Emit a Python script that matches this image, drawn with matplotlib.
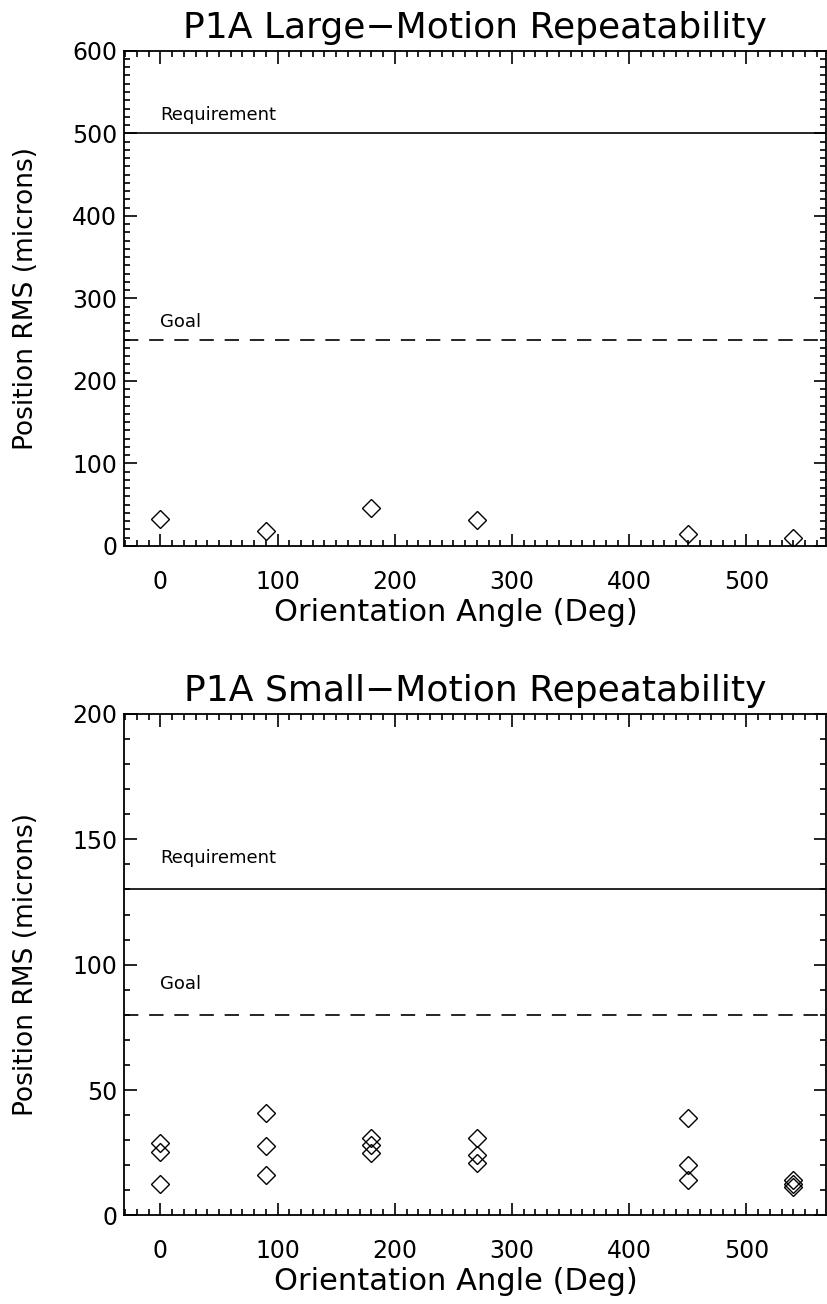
import matplotlib
matplotlib.use("Agg")
import matplotlib.pyplot as plt
from matplotlib.ticker import MultipleLocator

# Orientation angles (deg)
angles_large = [0, 90, 180, 270, 450, 540]
rms_large = [33, 18, 46, 31, 14, 10]

# Small-motion: three repeats at each angle
angles_small = [0, 0, 0, 90, 90, 90, 180, 180, 180, 270, 270, 270, 450, 450, 450, 540, 540, 540]
rms_small = [29, 25.5, 12.5, 41, 27.5, 16, 31, 28, 25, 31, 24, 21, 39, 20, 14, 14, 12.5, 11.5]

# Requirement / goal levels (microns)
req_large, goal_large = 500, 250
req_small, goal_small = 130, 80

plt.rcParams['font.family'] = 'DejaVu Sans'

fig = plt.figure(figsize=(8.27, 13.04), dpi=100)
ax1 = fig.add_axes([0.150, 0.5813, 0.849, 0.3798])
ax2 = fig.add_axes([0.150, 0.0679, 0.849, 0.3846])


def style_axes(ax, ymax, ymajor, title, req, goal, req_off, goal_off):
    ax.set_xlim(-31, 568)
    ax.set_ylim(0, ymax)
    ax.axhline(req, color='black', lw=1.2)
    ax.axhline(goal, color='black', lw=1.2, linestyle=(0, (8.6, 6.5)))
    ax.text(0, req + req_off, "Requirement", fontsize=13, va='center')
    ax.text(0, goal + goal_off, "Goal", fontsize=13, va='center')
    ax.set_title(title, fontsize=26, pad=9)
    ax.set_xlabel("Orientation Angle (Deg)", fontsize=22, labelpad=3)
    ax.xaxis.label.set_x(0.473)
    ax.set_ylabel("Position RMS (microns)", fontsize=19, labelpad=24)
    ax.xaxis.set_major_locator(MultipleLocator(100))
    ax.xaxis.set_minor_locator(MultipleLocator(10))
    ax.yaxis.set_major_locator(MultipleLocator(ymajor))
    ax.yaxis.set_minor_locator(MultipleLocator(10))
    ax.tick_params(which='both', direction='in', top=True, right=True, width=1.2)
    ax.tick_params(which='major', length=9, labelsize=17)
    ax.tick_params(axis='x', which='major', pad=17)
    ax.tick_params(axis='y', which='major', pad=5)
    ax.tick_params(which='minor', length=4.5)
    for s in ax.spines.values():
        s.set_linewidth(1.3)


# Large-motion panel
ax1.plot(angles_large, rms_large, linestyle='none', marker='D', markersize=9,
         markerfacecolor='none', markeredgecolor='black', markeredgewidth=1)
style_axes(ax1, 600, 100, "P1A Large\u2212Motion Repeatability",
           req_large, goal_large, 22, 21)

# Small-motion panel
ax2.plot(angles_small, rms_small, linestyle='none', marker='D', markersize=9,
         markerfacecolor='none', markeredgecolor='black', markeredgewidth=1)
style_axes(ax2, 200, 50, "P1A Small\u2212Motion Repeatability",
           req_small, goal_small, 12.5, 12.5)

plt.savefig("out.png", dpi=100)
